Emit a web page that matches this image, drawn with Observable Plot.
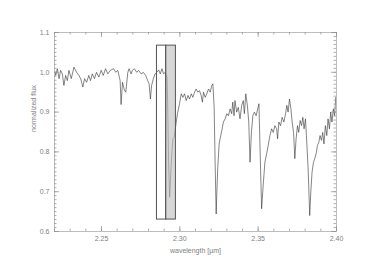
<!DOCTYPE html>
<html><head><meta charset="utf-8">
<script src="https://cdn.jsdelivr.net/npm/d3@7"></script>
<script src="https://cdn.jsdelivr.net/npm/@observablehq/plot@0.6"></script>
<style>body{margin:0;background:#fff}</style>
</head><body><div id="chart"></div>
<script>
// Spectrum: wavelength (µm) and normalized flux
const wavelength = [
  2.2200,2.2208,2.2218,2.2229,2.2239,2.2250,2.2260,2.2271,2.2282,2.2292,2.2307,2.2324,2.2341,2.2356,2.2367,2.2381,2.2392,2.2405,2.2419,2.2430,2.2441,2.2455,2.2468,2.2483,2.2498,2.2511,2.2526,2.2540,2.2557,
  2.2577,2.2591,2.2604,2.2619,2.2625,2.2634,2.2647,2.2655,2.2668,2.2676,2.2689,2.2697,2.2710,2.2725,2.2736,2.2753,2.2767,2.2782,2.2795,2.2804,2.2812,2.2820,2.2831,2.2842,
  2.2854,2.2865,2.2875,2.2886,2.2896,2.2907,2.2918,2.2922,2.2928,2.2935,2.2943,2.2950,2.2956,2.2964,2.2977,2.2985,2.2998,2.3009,2.3020,2.3030,2.3041,2.3052,2.3062,2.3073,2.3083,2.3094,2.3104,2.3115,2.3125,2.3136,2.3144,2.3151,2.3162,2.3172,2.3183,2.3194,2.3204,2.3211,2.3219,2.3225,2.3232,2.3236,2.3242,2.3251,
  2.3257,2.3268,2.3278,2.3289,2.3300,2.3310,2.3321,2.3331,2.3338,2.3346,2.3352,2.3363,2.3373,2.3384,2.3395,2.3405,2.3412,2.3421,2.3431,2.3440,2.3448,2.3457,2.3466,2.3476,2.3487,2.3497,2.3505,2.3511,2.3522,2.3532,2.3543,2.3554,
  2.3564,2.3575,2.3586,2.3596,2.3607,2.3618,2.3624,2.3632,2.3643,2.3653,2.3664,2.3675,2.3683,2.3691,2.3700,2.3709,2.3717,2.3726,2.3734,2.3742,2.3751,2.3759,2.3768,2.3777,2.3785,2.3793,2.3802,2.3808,2.3819,2.3829,2.3836,2.3844,2.3853,2.3861,2.3872,2.3878,2.3887,2.3895,2.3904,2.3912,2.3920,2.3929,2.3938,2.3946,2.3955,2.3963,2.3971,2.3980,2.3988,2.3995
];
const flux = [
  1.005,0.992,1.009,0.984,1.005,0.996,0.967,0.992,0.979,1.005,0.984,1.013,1.000,0.992,0.984,0.963,0.984,0.975,0.992,0.979,0.996,0.984,1.000,0.988,1.005,0.992,1.009,0.996,1.005,
  1.009,1.000,1.005,0.979,0.919,0.975,0.954,0.950,1.000,1.009,0.996,1.005,1.009,1.000,1.005,0.996,1.000,0.992,0.979,0.971,0.933,0.967,0.984,0.996,
  1.000,1.006,0.996,1.009,0.996,1.000,0.988,0.929,0.778,0.686,0.753,0.803,0.833,0.837,0.875,0.896,0.921,0.946,0.937,0.946,0.929,0.942,0.933,0.946,0.937,0.950,0.958,0.950,0.954,0.942,0.925,0.950,0.937,0.946,0.958,0.950,0.967,0.971,0.912,0.778,0.644,0.695,0.761,0.820,
  0.833,0.854,0.875,0.883,0.896,0.891,0.908,0.896,0.925,0.891,0.929,0.900,0.912,0.883,0.917,0.929,0.896,0.946,0.917,0.875,0.774,0.849,0.891,0.900,0.891,0.908,0.921,0.824,0.657,0.716,0.774,0.795,
  0.816,0.841,0.858,0.849,0.866,0.858,0.833,0.875,0.866,0.887,0.875,0.896,0.917,0.900,0.933,0.908,0.875,0.849,0.783,0.833,0.866,0.849,0.879,0.866,0.887,0.858,0.883,0.841,0.757,0.640,0.699,0.749,0.774,0.783,0.799,0.816,0.824,0.841,0.829,0.849,0.820,0.866,0.841,0.883,0.858,0.900,0.875,0.908,0.891,0.937
];
// Highlighted wavelength windows
const boxStart = [2.2854, 2.2913];
const boxEnd   = [2.2913, 2.2975];
const boxFill  = ["none", "#bdbdbd"];
const boxLow = 0.630, boxHigh = 1.067;
// Axis ticks
const xMajor = [2.25, 2.30, 2.35, 2.40];
const yMajor = [0.6, 0.7, 0.8, 0.9, 1.0, 1.1];
const xDomain = [2.22, 2.40];
const yDomain = [0.6, 1.1];

const W = 374, H = 280, mL = 54, mR = 38, mT = 32, mB = 49;
const dpx = (xDomain[1] - xDomain[0]) / (W - mL - mR);
const dpy = (yDomain[1] - yDomain[0]) / (H - mT - mB);
const xMinor = d3.range(222, 241).map(d => d / 100);
const yMinor = d3.range(60, 111).map(d => d / 100);

const spectrum = wavelength.map((w, i) => ({w, f: flux[i]}));
const boxes = boxStart.map((s, i) => ({x1: s, x2: boxEnd[i], fill: boxFill[i]}));
const tickColor = "#8f8f8f";
const textColor = "#808080";

const chart = Plot.plot({
  width: W, height: H,
  marginLeft: mL, marginRight: mR, marginTop: mT, marginBottom: mB,
  x: {domain: xDomain},
  y: {domain: yDomain},
  style: {fontFamily: "Liberation Sans, Arial, sans-serif", fontSize: "7px", color: textColor, background: "#fff"},
  marks: [
    Plot.line(spectrum, {x: "w", y: "f", stroke: "#333", strokeWidth: 0.6}),
    Plot.rect(boxes, {x1: "x1", x2: "x2", y1: boxLow, y2: boxHigh, fill: "fill", fillOpacity: 0.6, stroke: "#555", strokeWidth: 1}),
    Plot.frame({stroke: "#bdbdbd", strokeWidth: 1}),
    // bottom & top x ticks (inward)
    Plot.ruleX(xMinor, {x: d => d, y1: yDomain[0], y2: yDomain[0] + 2.5 * dpy, stroke: tickColor, strokeWidth: 0.7}),
    Plot.ruleX(xMajor, {x: d => d, y1: yDomain[0], y2: yDomain[0] + 5 * dpy, stroke: tickColor, strokeWidth: 0.7}),
    Plot.ruleX(xMinor, {x: d => d, y1: yDomain[1], y2: yDomain[1] - 2.5 * dpy, stroke: tickColor, strokeWidth: 0.7}),
    Plot.ruleX(xMajor, {x: d => d, y1: yDomain[1], y2: yDomain[1] - 5 * dpy, stroke: tickColor, strokeWidth: 0.7}),
    // left & right y ticks (inward)
    Plot.ruleY(yMinor, {y: d => d, x1: xDomain[0], x2: xDomain[0] + 2.5 * dpx, stroke: tickColor, strokeWidth: 0.7}),
    Plot.ruleY(yMajor, {y: d => d, x1: xDomain[0], x2: xDomain[0] + 5 * dpx, stroke: tickColor, strokeWidth: 0.7}),
    Plot.ruleY(yMinor, {y: d => d, x1: xDomain[1], x2: xDomain[1] - 2.5 * dpx, stroke: tickColor, strokeWidth: 0.7}),
    Plot.ruleY(yMajor, {y: d => d, x1: xDomain[1], x2: xDomain[1] - 5 * dpx, stroke: tickColor, strokeWidth: 0.7}),
    Plot.axisX({ticks: xMajor, tickSize: 0, tickPadding: 5, tickFormat: d3.format(".2f"), label: null}),
    Plot.axisY({ticks: yMajor, tickSize: 0, tickPadding: 5, tickFormat: d3.format(".1f"), label: null}),
    Plot.text(["wavelength [µm]"], {frameAnchor: "bottom", dy: 21, fill: textColor}),
    Plot.text(["normalized flux"], {frameAnchor: "left", rotate: -90, dx: -21, fill: textColor})
  ]
});
document.getElementById("chart").appendChild(chart);
</script>
</body></html>
